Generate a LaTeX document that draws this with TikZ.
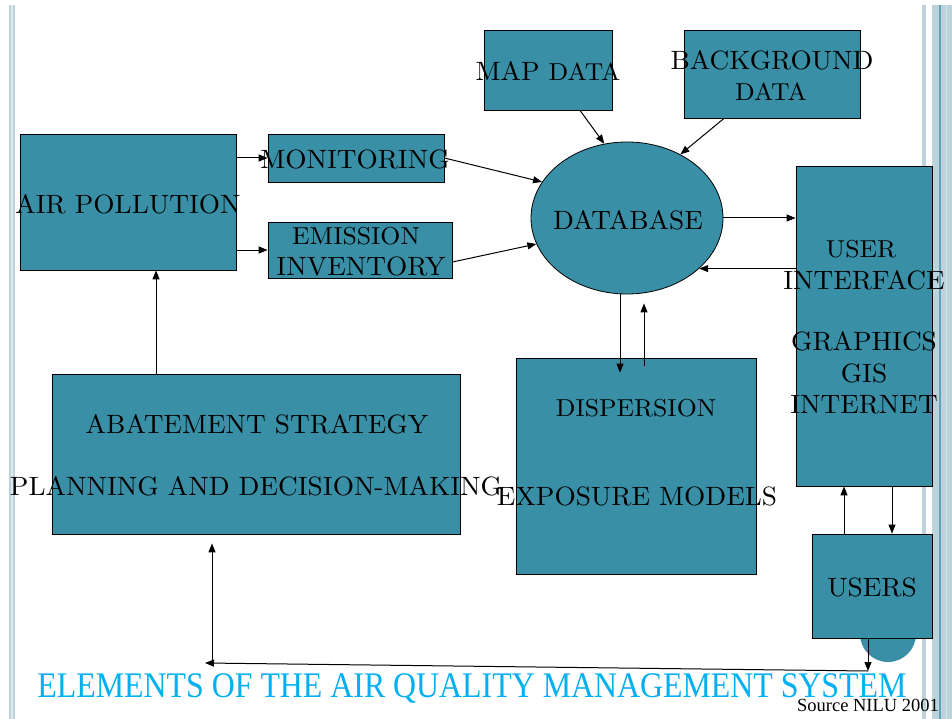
\documentclass[tikz,border=0pt]{standalone}
\usepackage{fontspec}
\newfontfamily\titlefont[FakeStretch=0.885]{Liberation Serif}
\newfontfamily\srcfont{Liberation Serif}
\newfontfamily\bodyfont[FakeStretch=1.03]{lmroman10-regular.otf}
\newfontfamily\smallfont[FakeStretch=1.05]{lmroman10-regular.otf}
\usetikzlibrary{arrows.meta,shapes.geometric}

\definecolor{boxteal}{RGB}{57,143,166}
\definecolor{bartint}{RGB}{188,211,219}
\definecolor{barline}{RGB}{95,165,186}
\definecolor{titleblue}{RGB}{0,176,240}

\newcommand{\bigtxt}{\bodyfont\fontsize{26.5}{30}\selectfont}
\newcommand{\smalltxt}{\smallfont\fontsize{24.5}{27}\selectfont}

\tikzset{
	blk/.style={draw=black, fill=boxteal, line width=0.8pt, inner sep=0pt},
	lbl/.style={inner sep=0pt, font=\bigtxt},
	lblsmall/.style={inner sep=0pt, font=\smalltxt},
	arr/.style={-{Triangle[length=9pt,width=7pt]}, line width=1pt},
}

\begin{document}
\begin{tikzpicture}[x=1pt,y=-1pt]
	\useasboundingbox (0,0) rectangle (952,719);
	\fill[white] (0,0) rectangle (952,719);
	% Folienrand links und rechts
	\fill[bartint] (9,5) rectangle (15,719);
	\fill[white!55!bartint] (11,5) rectangle (12.5,719);
	\fill[bartint] (922,5) rectangle (926,719);
	\fill[bartint] (932,5) rectangle (952,719);
	\fill[barline] (939,5) rectangle (941,719);
	\fill[white!40!bartint] (946,5) rectangle (947,719);
	\fill[boxteal] (888,634) circle (28);%Kreis hinter USERS

	% Kaesten
	\node[blk, minimum width=216, minimum height=136] (air) at (128,202) {};
	\node[blk, minimum width=176, minimum height=48] (mon) at (356,158) {};
	\node[blk, minimum width=184, minimum height=56] (emi) at (360,250) {};
	\node[blk, minimum width=128, minimum height=80] (map) at (548,70) {};
	\node[blk, minimum width=176, minimum height=88] (bg) at (772,74) {};
	\node[blk, ellipse, minimum width=192, minimum height=152] (db) at (627,218) {};
	\node[blk, minimum width=136, minimum height=320] (ui) at (864,326) {};
	\node[blk, minimum width=240, minimum height=216] (disp) at (636,466) {};
	\node[blk, minimum width=408, minimum height=160] (abat) at (256,454) {};
	\node[blk, minimum width=120, minimum height=104] (users) at (872,586) {};

	% Beschriftung
	\node[lbl] (airT) at (128,204) {AIR POLLUTION};
	\node[lbl] (monT) at (355,159) {MONITORING};
	\node[lblsmall] (emiT) at (356,236) {EMISSION};
	\node[lbl] (invT) at (361,266) {INVENTORY};
	\node[lbl] (mapT) at (548,71) {MAP {\smalltxt DATA}};
	\node[lbl] (bgT) at (772,60) {BACKGROUND};
	\node[lblsmall] (bgdT) at (771,92) {DATA};
	\node[lbl] (dbT) at (628,220) {DATABASE};
	\node[lblsmall] (uiT) at (861,249) {USER};
	\node[lbl] (ifT) at (864,280) {INTERFACE};
	\node[lbl] (grT) at (864,341) {GRAPHICS};
	\node[lbl] (gisT) at (864,373) {GIS};
	\node[lbl] (netT) at (864,405) {INTERNET};
	\node[lblsmall] (dispT) at (636,408) {DISPERSION};
	\node[lbl] (expT) at (637,496) {EXPOSURE MODELS};
	\node[lbl] (abatT) at (257,424) {ABATEMENT STRATEGY};
	\node[lbl] (planT) at (256,486) {PLANNING AND DECISION-MAKING};
	\node[lbl] (usersT) at (872,587) {USERS};

	% Pfeile
	\draw[arr] (air.east |- mon.west) -- (mon.west);
	\draw[arr] (air.east |- emi.west) -- (emi.west);
	\draw[arr] (mon.east) -- (db.157);
	\draw[arr] ([yshift=-12pt]emi.east) -- (db.196);
	\draw[arr] ([xshift=32pt]map.south) -- (db.107);
	\draw[arr] ([xshift=-48pt]bg.south) -- (db.50);
	\draw[arr] (db.east) -- (db.east -| ui.west);
	\draw[arr] (db.325 -| ui.west) -- (db.325);
	\draw[arr] ([xshift=-7pt]db.south) -- ([xshift=-16pt,yshift=-15pt]disp.north);
	\draw[arr] ([xshift=8pt,yshift=-8pt]disp.north) -- ([xshift=17pt,yshift=-9pt]db.south);
	\draw[arr] ([xshift=-100pt]abat.north) -- ([xshift=28pt]air.south);
	\draw[arr] ([xshift=-28pt]users.north) -- ([xshift=-20pt]ui.south);
	\draw[arr] ([xshift=28pt]ui.south) -- ([xshift=20pt]users.north);

	\coordinate (bendR) at (868,671);
	\coordinate (bendL) at (212,663);
	\draw[arr] ([xshift=-4pt]users.south) -- (bendR);
	\draw[arr] (bendR) -- ([xshift=-7pt]bendL);
	\draw[arr] (bendL) -- ([xshift=-44pt,yshift=-9pt]abat.south);

	% Titel
	\node[text=titleblue, inner sep=0pt, font=\titlefont\fontsize{36}{40}\selectfont] (title) at (472,688) {ELEMENTS OF THE AIR QUALITY MANAGEMENT SYSTEM};
	\node[inner sep=0pt, font=\srcfont\fontsize{18.5}{20}\selectfont] (src) at (868,705) {Source NILU 2001};
\end{tikzpicture}
\end{document}
